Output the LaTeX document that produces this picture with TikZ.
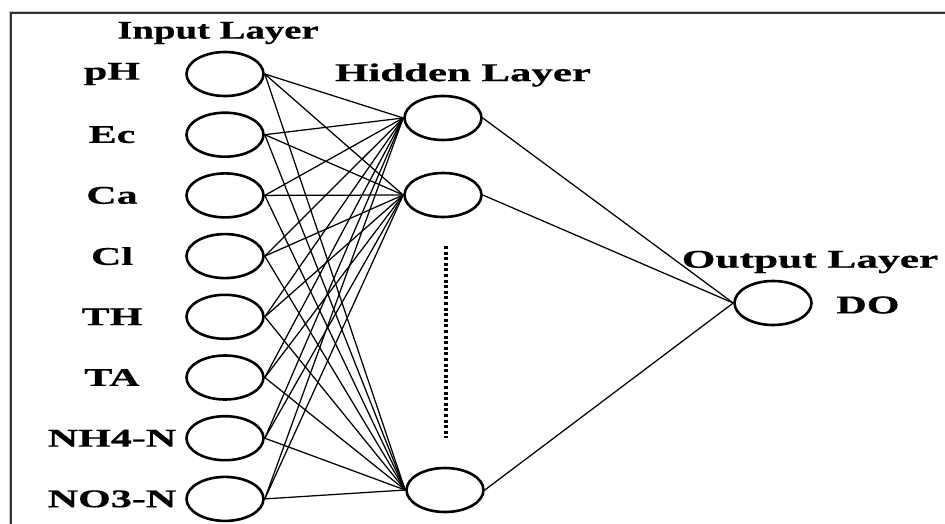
\documentclass[tikz,border=0pt]{standalone}
\usepackage{fontspec}
\setmainfont[BoldFeatures={FakeBold=0.5}]{Liberation Serif}
\usetikzlibrary{shapes.geometric}
\newcommand\widetext[2][1.65]{\scalebox{#1}[1]{#2}}
\begin{document}
\begin{tikzpicture}[x=1pt,y=-1pt,
  neuron/.style={draw,line width=2.6pt,ellipse,minimum width=77pt,minimum height=44pt,inner sep=0pt},
  lbl/.style={font=\bfseries\fontsize{25.5}{25.5}\selectfont,inner sep=0pt},
  link/.style={line width=1.25pt},
  dots/.style={line width=3.4pt,dash pattern=on 3pt off 2.6pt},
  frame/.style={line width=1.6pt,black!80}]
\useasboundingbox (0,0) rectangle (945,524);

% frame along the top and left edges
\draw[gray!45,line width=1pt] (9.3,524) -- (9.3,11.8) -- (945,11.8);
\draw[frame] (10.8,524) -- (10.8,13.3) -- (945,13.3);

% layer titles
\node[lbl] (tin)  at (218,33)  {\widetext[1.52]{Input Layer}};
\node[lbl] (thid) at (463,75)  {\widetext[1.68]{Hidden Layer}};
\node[lbl] (tout) at (810,262) {\widetext[1.7]{Output Layer}};

% input layer
\foreach \nm/\txt [count=\i from 0] in {pH/pH,Ec/Ec,Ca/Ca,Cl/Cl,TH/TH,TA/TA,NHf/NH4-N,NOt/NO3-N}{
  \node[neuron] (in\nm) at (225,74+60.7*\i) {};
  \node[lbl] (lab\nm) at (112,74+60.7*\i) {\widetext{\txt}};
}

% hidden layer
\node[neuron] (h1) at (443,118) {};
\node[neuron] (h2) at (443,195) {};
\node[neuron] (h3) at (445,490) {};
\coordinate (dtop) at (446,246);
\coordinate (dbot) at (446,438);
\draw[dots] (dtop) -- (dbot);

% output layer
\node[neuron] (out) at (773,303) {};
\node[lbl] (lDO) at (868,305) {\widetext{DO}};

% connections
\foreach \nm in {pH,Ec,Ca,Cl,TH,TA,NHf,NOt}{
  \foreach \h in {h1,h2,h3}{
    \draw[link] (in\nm.east) -- (\h.west);
  }
}
\foreach \h in {h1,h2,h3}{
  \draw[link] (\h.east) -- (out.west);
}
\end{tikzpicture}
\end{document}
